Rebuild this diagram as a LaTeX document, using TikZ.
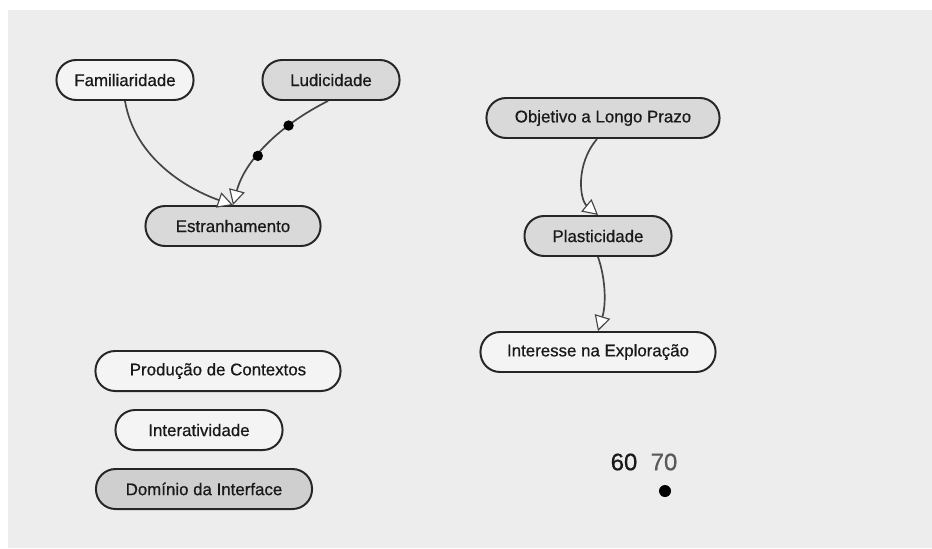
\documentclass[tikz,border=0pt]{standalone}
\usepackage{fontspec}
\setmainfont{Liberation Sans}
\newfontfamily\conceptfont{Liberation Sans}[FakeBold=0.6]
\usetikzlibrary{arrows.meta}

\definecolor{canvas}{HTML}{EDEDED}
\definecolor{lightbox}{HTML}{F4F4F4}
\definecolor{graybox}{HTML}{D9D9D9}
\definecolor{darkbox}{HTML}{CFCFCF}
\definecolor{edgecol}{HTML}{444444}

\tikzset{
  concept/.style={draw=black!85, line width=1.4pt, rounded corners=0.49cm,
    minimum height=1cm, inner sep=0pt, font=\conceptfont\fontsize{12}{14}\selectfont, text=black!90},
  link/.style={draw=edgecol, line width=1.2pt,
    -{Triangle[length=3.8mm, width=4mm, fill=white, line width=0.8pt]}},
  dot/.style={circle, fill=black, inner sep=0pt, minimum size=0.26cm},
}

\begin{document}
\begin{tikzpicture}[x=0.025cm, y=-0.025cm]
  \useasboundingbox (0,0) rectangle (932,548);
  \fill[canvas] (8,10) rectangle (932,548);

  % Nodes
  \node[concept, fill=lightbox, minimum width=3.425cm] (fam) at (125,80) {Familiaridade};
  \node[concept, fill=graybox, minimum width=3.425cm] (lud) at (331,80) {Ludicidade};
  \node[concept, fill=graybox, minimum width=4.375cm] (estr) at (233,226) {Estranhamento};
  \node[concept, fill=graybox, minimum width=5.825cm] (obj) at (603,118) {Objetivo a Longo Prazo};
  \node[concept, fill=graybox, minimum width=3.675cm] (plas) at (598,236) {Plasticidade};
  \node[concept, fill=lightbox, minimum width=5.875cm] (inter) at (598,352) {Interesse na Exploração};
  \node[concept, fill=lightbox, minimum width=6.125cm] (prod) at (218,371) {Produção de Contextos};
  \node[concept, fill=lightbox, minimum width=4.175cm] (interat) at (199,430) {Interatividade};
  \node[concept, fill=darkbox, minimum width=5.4cm] (dom) at (204,489) {Domínio da Interface};

  \node[font=\conceptfont\fontsize{17}{20}\selectfont, text=black!90] (sixty) at (624,462) {60};
  \node[font=\conceptfont\fontsize{17}{20}\selectfont, text=black!65] (seventy) at (664,462) {70};
  \node[dot, minimum size=0.3cm] (spot) at (665,491) {};

  % Edges
  \draw[link] (fam.south) .. controls (135,160) and (190,190) .. (estr.north);
  \draw[link] ([xshift=-0.075cm]lud.south) .. controls (280,125) and (245,160) .. (estr.north)
    node[dot, pos=0.3] {} node[dot, pos=0.6] {};
  \draw[link] ([xshift=-0.15cm]obj.south) .. controls (575,165) and (580,200) .. (plas.north);
  \draw[link] (plas.south) .. controls (606,280) and (606,305) .. (inter.north);
\end{tikzpicture}
\end{document}
